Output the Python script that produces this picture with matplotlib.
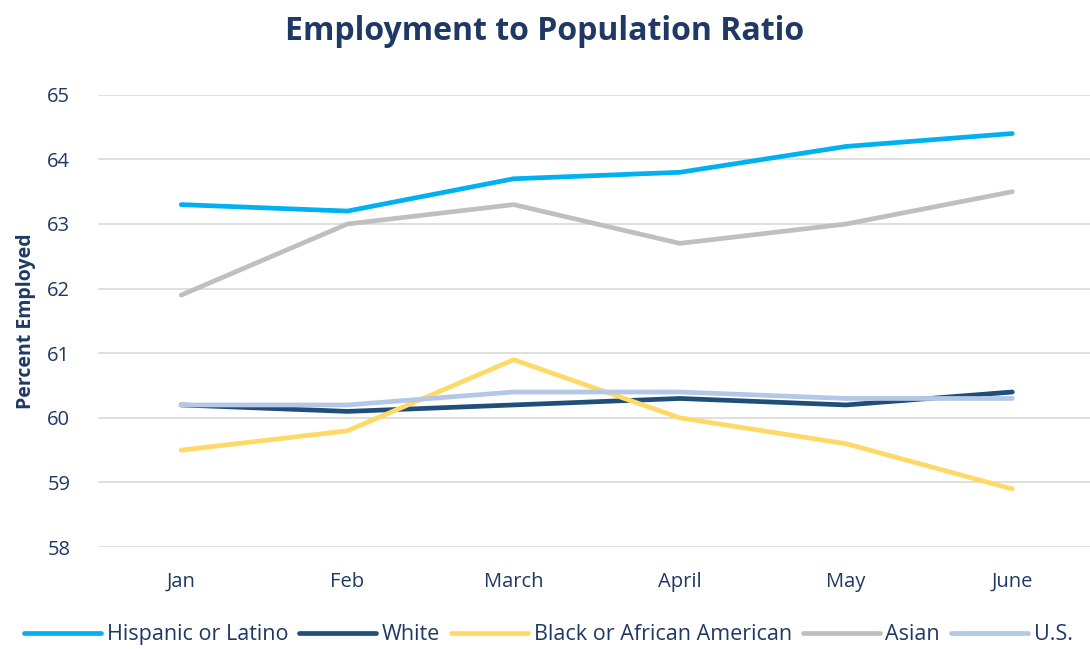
import matplotlib.pyplot as plt

# Datos
meses = ["Jan", "Feb", "March", "April", "May", "June"]
hispanic = [63.3, 63.2, 63.7, 63.8, 64.2, 64.4]
white = [60.2, 60.1, 60.2, 60.3, 60.2, 60.4]
black = [59.5, 59.8, 60.9, 60.0, 59.6, 58.9]
asian = [61.9, 63.0, 63.3, 62.7, 63.0, 63.5]
us = [60.2, 60.2, 60.4, 60.4, 60.3, 60.3]

navy = "#1f3864"
plt.rcParams["font.family"] = ["Open Sans", "DejaVu Sans"]

fig = plt.figure(figsize=(10.9, 6.49), dpi=100)
ax = fig.add_axes([0.09, 0.157, 0.915, 0.697])

x = range(len(meses))
ax.plot(x, hispanic, color="#00b0f0", lw=3.4, label="Hispanic or Latino", solid_capstyle="round")
ax.plot(x, white, color="#1f4e79", lw=3.4, label="White", solid_capstyle="round")
ax.plot(x, black, color="#ffd966", lw=3.4, label="Black or African American", solid_capstyle="round")
ax.plot(x, asian, color="#bfbfbf", lw=3.4, label="Asian", solid_capstyle="round")
ax.plot(x, us, color="#b4c7e7", lw=3.4, label="U.S.", solid_capstyle="round")

ax.set_ylim(58, 65)
ax.set_xlim(-0.5, 5.5)
ax.set_yticks(range(58, 66))
ax.set_xticks(list(x))
ax.set_xticklabels(meses)
ax.grid(axis="y", color="#d9d9d9", lw=1.2)
ax.set_axisbelow(True)
for s in ax.spines.values():
    s.set_visible(False)
ax.tick_params(length=0, labelsize=14.5, colors=navy)
ax.tick_params(axis="x", pad=18)
ax.tick_params(axis="y", pad=20)

ax.set_ylabel("Percent Employed", fontsize=14, fontweight="bold", color=navy, labelpad=8)
fig.text(0.5, 0.952, "Employment to Population Ratio", ha="center", va="center",
         fontsize=23, fontweight="bold", color=navy)

fig.legend(loc="center", bbox_to_anchor=(0.503, 0.022), ncol=5, frameon=False,
           fontsize=15.5, handlelength=3.6, columnspacing=0.5, handletextpad=0.25,
           labelcolor=navy)

fig.savefig("out.png", dpi=100)
